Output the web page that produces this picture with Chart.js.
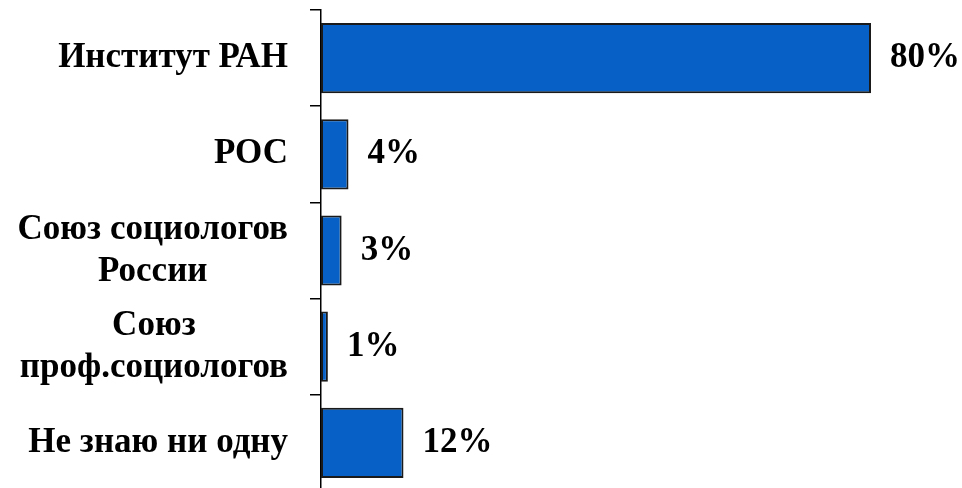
<!DOCTYPE html>
<html>
<head>
<meta charset="utf-8">
<script src="https://cdn.jsdelivr.net/npm/chart.js@4.4.1/dist/chart.umd.min.js"></script>
<style>
  html, body { margin: 0; padding: 0; background: #fff; overflow: hidden; }
  #wrap { position: relative; width: 962px; height: 491px; }
</style>
</head>
<body>
<div id="wrap"><canvas id="chart"></canvas></div>
<script>
// Gegevens van de grafiek
const categories = [
    ['Институт РАН'],
    ['РОС'],
    ['Союз социологов', 'России'],
    ['Союз', 'проф.социологов'],
    ['Не знаю ни одну']
];
const values = [80, 4, 3, 1, 12];
const valueLabels = ['80%', '4%', '3%', '1%', '12%'];

const FONT = 'bold 35px "Liberation Serif", "Times New Roman", serif';
const LINE_H = 42;
const TICK_LEN = 11;
const TICK_PAD = 22;

// Categorie-labels: per blok gecentreerd, blok rechts uitgelijnd
const yLabelPlugin = {
    id: 'yLabels',
    afterDraw(chart) {
        const scale = chart.scales.y;
        const ctx = chart.ctx;
        ctx.save();
        ctx.font = FONT;
        ctx.fillStyle = '#000';
        ctx.textAlign = 'center';
        ctx.textBaseline = 'middle';
        const right = scale.right - TICK_LEN - TICK_PAD;
        categories.forEach((lines, i) => {
            const yc = scale.getPixelForTick(i);
            const widest = Math.max(...lines.map(l => ctx.measureText(l).width));
            const cx = right - widest / 2;
            lines.forEach((line, j) => {
                const ty = yc + (j - (lines.length - 1) / 2) * LINE_H;
                ctx.fillText(line, cx, ty);
            });
        });
        ctx.restore();
    }
};

// Waardelabels rechts van de balken
const valueLabelPlugin = {
    id: 'valueLabels',
    afterDatasetsDraw(chart) {
        const ctx = chart.ctx;
        const meta = chart.getDatasetMeta(0);
        ctx.save();
        ctx.font = FONT;
        ctx.fillStyle = '#000';
        ctx.textAlign = 'left';
        ctx.textBaseline = 'middle';
        meta.data.forEach((bar, i) => {
            ctx.fillText(valueLabels[i], bar.x + 19, bar.y);
        });
        ctx.restore();
    }
};

new Chart(document.getElementById('chart'), {
    type: 'bar',
    data: {
        labels: categories,
        datasets: [{
            data: values,
            backgroundColor: '#0660C6',
            borderColor: '#1a1a1a',
            borderWidth: 2,
            borderSkipped: false,
            categoryPercentage: 1,
            barPercentage: 0.73
        }]
    },
    options: {
        indexAxis: 'y',
        responsive: true,
        maintainAspectRatio: false,
        animation: false,
        layout: { padding: { top: 10, right: 91, bottom: 0, left: 0 } },
        plugins: {
            legend: { display: false },
            tooltip: { enabled: false }
        },
        scales: {
            x: {
                display: false,
                min: 0,
                max: 80
            },
            y: {
                afterFit(scale) {
                    scale.width = 321;
                    scale.paddingTop = 0;
                    scale.paddingBottom = 0;
                },
                grid: {
                    drawOnChartArea: false,
                    drawTicks: true,
                    tickLength: TICK_LEN,
                    color: '#000',
                    lineWidth: 1.5
                },
                border: { display: true, color: '#000', width: 1.5 },
                ticks: {
                    color: 'rgba(0,0,0,0)',
                    padding: TICK_PAD,
                    font: { family: '"Liberation Serif", serif', size: 35, weight: 'bold' }
                }
            }
        }
    },
    plugins: [yLabelPlugin, valueLabelPlugin]
});
</script>
</body>
</html>
